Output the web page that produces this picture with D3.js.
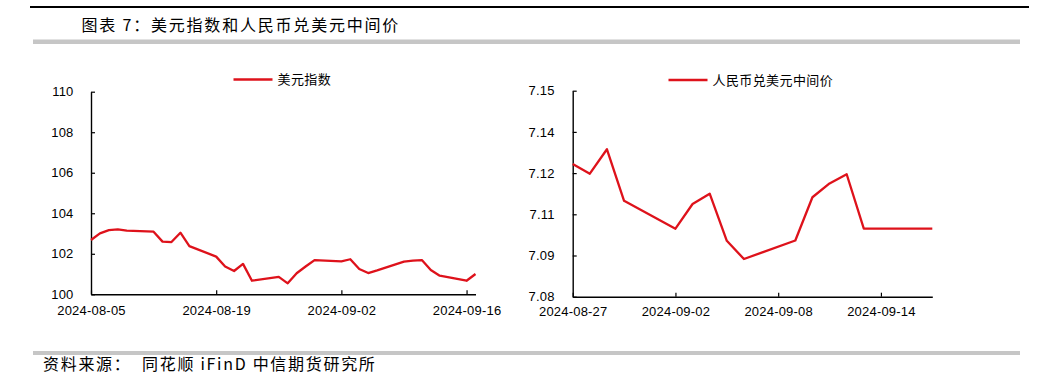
<!DOCTYPE html>
<html>
<head>
<meta charset="utf-8">
<script src="https://cdn.jsdelivr.net/npm/d3@7"></script>
<style>
  html, body { margin: 0; padding: 0; background: #fff; }
  svg { display: block; }
  text { fill: #000; }
</style>
</head>
<body>
<svg id="chart" width="1059" height="391"></svg>
<script>
// ---------------- data ----------------
const titleText = "图表 7：美元指数和人民币兑美元中间价";
const sourceText = "资料来源：  同花顺 iFinD 中信期货研究所";

const dxyName = "美元指数";
const dxyDates = [
  "2024-08-05","2024-08-06","2024-08-07","2024-08-08","2024-08-09",
  "2024-08-12","2024-08-13","2024-08-14","2024-08-15","2024-08-16",
  "2024-08-19","2024-08-20","2024-08-21","2024-08-22","2024-08-23",
  "2024-08-26","2024-08-27","2024-08-28","2024-08-29","2024-08-30",
  "2024-09-02","2024-09-03","2024-09-04","2024-09-05","2024-09-06",
  "2024-09-09","2024-09-10","2024-09-11","2024-09-12","2024-09-13",
  "2024-09-16","2024-09-17"
];
const dxyValues = [
  102.68, 103.01, 103.17, 103.20, 103.14,
  103.09, 102.60, 102.58, 103.04, 102.38,
  101.86, 101.37, 101.15, 101.50, 100.67,
  100.86, 100.54, 101.04, 101.37, 101.69,
  101.63, 101.73, 101.25, 101.05, 101.18,
  101.61, 101.66, 101.69, 101.20, 100.92,
  100.67, 101.00
];
const dxyYTicks = [100, 102, 104, 106, 108, 110];
const dxyXTicks = ["2024-08-05", "2024-08-19", "2024-09-02", "2024-09-16"];
const dxyXDomain = ["2024-08-05", "2024-09-17"];
const dxyYDomain = [100, 110];

const cnyName = "人民币兑美元中间价";
const cnyDates = [
  "2024-08-27","2024-08-28","2024-08-29","2024-08-30",
  "2024-09-02","2024-09-03","2024-09-04","2024-09-05","2024-09-06",
  "2024-09-09","2024-09-10","2024-09-11","2024-09-12","2024-09-13",
  "2024-09-17"
];
const cnyValues = [
  7.1251, 7.1218, 7.1301, 7.1126,
  7.1031, 7.1115, 7.1150, 7.0990, 7.0928,
  7.0991, 7.1138, 7.1185, 7.1216, 7.1031,
  7.1031
];
const cnyYTicks = [7.08, 7.094, 7.108, 7.122, 7.136, 7.15];
const cnyXTicks = ["2024-08-27", "2024-09-02", "2024-09-08", "2024-09-14"];
const cnyXDomain = ["2024-08-27", "2024-09-17"];
const cnyYDomain = [7.08, 7.15];

// ---------------- drawing ----------------
const parse = d3.timeParse("%Y-%m-%d");
const fmtDate = d3.timeFormat("%Y-%m-%d");
const svg = d3.select("#chart");
const RED = "#de121b";
const CJK = "'Noto Sans CJK SC', 'Noto Sans', sans-serif";
const NUM = "'Liberation Sans', Arial, sans-serif";

// header & footer rules
svg.append("rect").attr("x", 30).attr("y", 6).attr("width", 999).attr("height", 2).attr("fill", "#000");
svg.append("rect").attr("x", 33).attr("y", 39.5).attr("width", 987).attr("height", 4.5).attr("fill", "#c6c6c6");
svg.append("rect").attr("x", 33).attr("y", 351).attr("width", 987).attr("height", 4).attr("fill", "#c6c6c6");

svg.append("text")
  .attr("x", 81.5).attr("y", 25).attr("dy", "0.36em")
  .style("font-family", CJK).style("font-size", "16px").style("letter-spacing", "1.8px")
  .text(titleText);

svg.append("text")
  .attr("x", 43).attr("y", 364).attr("dy", "0.36em")
  .style("font-family", CJK).style("font-size", "16px").style("letter-spacing", "1.7px")
  .style("white-space", "pre")
  .text(sourceText);

function drawPanel(cfg) {
  const x = d3.scaleTime().domain(cfg.xDomain.map(parse)).range([cfg.x0, cfg.x1]);
  const y = d3.scaleLinear().domain(cfg.yDomain).range([cfg.y0, cfg.y1]);
  const g = svg.append("g");

  // y axis
  const ya = g.append("g").attr("transform", `translate(${cfg.x0},0)`)
    .call(d3.axisLeft(y).tickValues(cfg.yTicks).tickSize(-4).tickPadding(cfg.yPad)
      .tickFormat(cfg.yFormat).tickSizeOuter(0));
  // x axis
  const xa = g.append("g").attr("transform", `translate(0,${cfg.y0})`)
    .call(d3.axisBottom(x).tickValues(cfg.xTicks.map(parse)).tickSize(-4).tickPadding(cfg.xPad)
      .tickFormat(fmtDate).tickSizeOuter(0));
  [ya, xa].forEach(a => {
    a.select(".domain").attr("stroke", "#000").attr("stroke-width", 1.4);
    a.selectAll(".tick line").attr("stroke", "#000").attr("stroke-width", 1.2);
    a.selectAll(".tick text").style("font-family", NUM).style("font-size", "13px")
      .style("letter-spacing", "0.2px").attr("fill", "#000");
  });

  // line
  const data = cfg.dates.map((d, i) => ({ d: parse(d), v: cfg.values[i] }));
  g.append("path").datum(data)
    .attr("fill", "none").attr("stroke", RED).attr("stroke-width", 2.3)
    .attr("stroke-linejoin", "round")
    .attr("d", d3.line().x(p => x(p.d)).y(p => y(p.v)));

  // legend
  g.append("line").attr("x1", cfg.legX).attr("x2", cfg.legX + 39)
    .attr("y1", cfg.legY).attr("y2", cfg.legY)
    .attr("stroke", RED).attr("stroke-width", 2.3);
  g.append("text").attr("x", cfg.legX + 44).attr("y", cfg.legY).attr("dy", "0.36em")
    .style("font-family", CJK).style("font-size", "13px").style("letter-spacing", "0.4px")
    .text(cfg.name);
}

drawPanel({
  name: dxyName, dates: dxyDates, values: dxyValues,
  xDomain: dxyXDomain, yDomain: dxyYDomain, xTicks: dxyXTicks, yTicks: dxyYTicks,
  x0: 91, x1: 475.5, y0: 294.3, y1: 91.7,
  yPad: 17.5, xPad: 11, yFormat: d3.format("d"),
  legX: 233.5, legY: 79.5
});

drawPanel({
  name: cnyName, dates: cnyDates, values: cnyValues,
  xDomain: cnyXDomain, yDomain: cnyYDomain, xTicks: cnyXTicks, yTicks: cnyYTicks,
  x0: 572.7, x1: 932.3, y0: 296.7, y1: 90.7,
  yPad: 18, xPad: 10, yFormat: d3.format(".2f"),
  legX: 668.5, legY: 80
});
</script>
</body>
</html>
